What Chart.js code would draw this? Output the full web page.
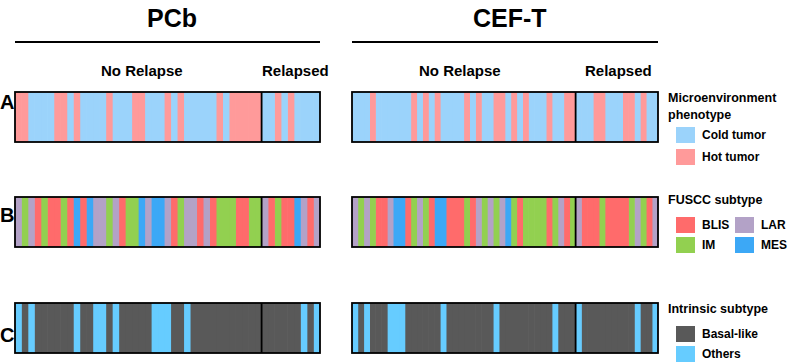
<!DOCTYPE html>
<html>
<head>
<meta charset="utf-8">
<script src="https://cdn.jsdelivr.net/npm/chart.js@4.4.1/dist/chart.umd.min.js"></script>
<style>
  body { margin: 0; background: #fff; width: 796px; height: 363px; position: relative; overflow: hidden;
         font-family: "Liberation Sans", Arial, sans-serif; font-weight: bold; color: #000; }
  .t { position: absolute; white-space: nowrap; line-height: 1; }
  .strip { position: absolute; }
  .sw { position: absolute; width: 19px; height: 16px; }
  .rule { position: absolute; height: 2px; background: #000; }
</style>
</head>
<body>

<div class="t" style="left:147px;top:6px;font-size:25px">PCb</div>
<div class="t" style="left:473px;top:6px;font-size:25px">CEF-T</div>
<div class="rule" style="left:15px;top:41px;width:305px"></div>
<div class="rule" style="left:352px;top:41px;width:306px"></div>

<div class="t" style="left:101px;top:63px;font-size:15px">No Relapse</div>
<div class="t" style="left:262px;top:63px;font-size:15px">Relapsed</div>
<div class="t" style="left:419px;top:63px;font-size:15px">No Relapse</div>
<div class="t" style="left:585px;top:63px;font-size:15px">Relapsed</div>

<div class="t" style="left:0px;top:92px;font-size:20px">A</div>
<div class="t" style="left:0px;top:205px;font-size:20px">B</div>
<div class="t" style="left:0px;top:325px;font-size:20px">C</div>

<!-- legends -->
<div class="t" style="left:668px;top:92px;font-size:12.5px">Microenvironment</div>
<div class="t" style="left:668px;top:109px;font-size:12.5px">phenotype</div>
<div class="sw" style="left:676px;top:127px;background:#9bd3fb"></div>
<div class="t" style="left:702px;top:129px;font-size:12px">Cold tumor</div>
<div class="sw" style="left:676px;top:149px;background:#ff9a9a"></div>
<div class="t" style="left:702px;top:151px;font-size:12px">Hot tumor</div>

<div class="t" style="left:668px;top:194px;font-size:12.5px">FUSCC subtype</div>
<div class="sw" style="left:676px;top:217px;background:#ff6b6b"></div>
<div class="t" style="left:702px;top:219px;font-size:12px">BLIS</div>
<div class="sw" style="left:676px;top:237px;background:#92d050"></div>
<div class="t" style="left:702px;top:239px;font-size:12px">IM</div>
<div class="sw" style="left:735px;top:217px;background:#b3a2c7"></div>
<div class="t" style="left:761px;top:219px;font-size:12px">LAR</div>
<div class="sw" style="left:735px;top:237px;background:#3ca8f6"></div>
<div class="t" style="left:761px;top:239px;font-size:12px">MES</div>

<div class="t" style="left:668px;top:303px;font-size:12.5px">Intrinsic subtype</div>
<div class="sw" style="left:676px;top:326px;background:#595959"></div>
<div class="t" style="left:702px;top:328px;font-size:12px">Basal-like</div>
<div class="sw" style="left:676px;top:346px;background:#66ccff"></div>
<div class="t" style="left:702px;top:348px;font-size:12px">Others</div>

<canvas id="pcbA" class="strip"></canvas>
<canvas id="cefA" class="strip"></canvas>
<canvas id="pcbB" class="strip"></canvas>
<canvas id="cefB" class="strip"></canvas>
<canvas id="pcbC" class="strip"></canvas>
<canvas id="cefC" class="strip"></canvas>

<script>
// number of "No Relapse" patients in each arm (rest are relapsed)
const pcbNoRelapse = 38;
const cefNoRelapse = 38;

// microenvironment phenotype, one letter per patient: C = cold, H = hot
const pcbMicro = "HHCCCCHHCHCCCCHCCCHHCCCHCHCCCCCHCHHHHHCCHCHCCCC".split("");
const cefMicro = "CCCHCCCCCCHCHCHCCCCHCHCCHHCHCHCCCHCCHHCCCHHCCCHHCHCC".split("");

// FUSCC subtype: B = BLIS, I = IM, L = LAR, M = MES
const pcbFuscc = "LILBIBBIBMBMLLILBIIMLMMLBILLBLBIIIBBIILBIBBMLBL".split("");
const cefFuscc = "LILIBBLMMBILIBMMBBBIBLILILMIBIIIIBILBILBBBIBBBBILIBL".split("");

// intrinsic subtype: B = basal-like, O = others
const pcbIntrinsic = "OBOBBBBBBOBBOOBOBBBBBOOOBBOBBBBBBBBBBBBBBBBBOBO".split("");
const cefIntrinsic = "OBOBBBOOOBBBBBBOBBBBBBBBOBBBBBBBBBOBBBOBBBBBBBBBOBBO".split("");

const microColors = { C: "#9bd3fb", H: "#ff9a9a" };
const fusccColors = { B: "#ff6b6b", I: "#92d050", L: "#b3a2c7", M: "#3ca8f6" };
const intrinsicColors = { B: "#595959", O: "#66ccff" };

// strip outline plus the no relapse / relapsed divider
const framePlugin = {
  id: 'frame',
  afterDatasetsDraw(chart, args, opts) {
    const a = chart.chartArea;
    const ctx = chart.ctx;
    const xDiv = chart.scales.x.getPixelForValue(opts.split);
    ctx.save();
    ctx.strokeStyle = '#000';
    ctx.lineWidth = 1.8;
    ctx.strokeRect(a.left, a.top, a.right - a.left, a.bottom - a.top);
    ctx.beginPath();
    ctx.moveTo(xDiv, a.top);
    ctx.lineTo(xDiv, a.bottom);
    ctx.stroke();
    ctx.restore();
  }
};

function drawStrip(id, codes, colors, split, left, top, width, height) {
  const el = document.getElementById(id);
  el.width = width + 4;
  el.height = height + 4;
  el.style.left = (left - 2) + 'px';
  el.style.top = (top - 2) + 'px';
  el.style.width = (width + 4) + 'px';
  el.style.height = (height + 4) + 'px';
  const datasets = codes.map(function(c) {
    return { data: [1], backgroundColor: colors[c], borderWidth: 0,
             barPercentage: 1, categoryPercentage: 1 };
  });
  new Chart(el, {
    type: 'bar',
    data: { labels: [''], datasets: datasets },
    options: {
      indexAxis: 'y',
      responsive: false,
      maintainAspectRatio: false,
      animation: false,
      layout: { padding: 2 },
      scales: {
        x: { stacked: true, min: 0, max: codes.length, display: false },
        y: { stacked: true, display: false }
      },
      plugins: { legend: { display: false }, tooltip: { enabled: false }, frame: { split: split } }
    },
    plugins: [framePlugin]
  });
}

drawStrip('pcbA', pcbMicro, microColors, pcbNoRelapse, 15, 92, 305, 50);
drawStrip('cefA', cefMicro, microColors, cefNoRelapse, 352, 92, 306, 50);
drawStrip('pcbB', pcbFuscc, fusccColors, pcbNoRelapse, 15, 197, 305, 50);
drawStrip('cefB', cefFuscc, fusccColors, cefNoRelapse, 352, 197, 306, 50);
drawStrip('pcbC', pcbIntrinsic, intrinsicColors, pcbNoRelapse, 15, 303, 305, 50);
drawStrip('cefC', cefIntrinsic, intrinsicColors, cefNoRelapse, 352, 303, 306, 50);
</script>
</body>
</html>
